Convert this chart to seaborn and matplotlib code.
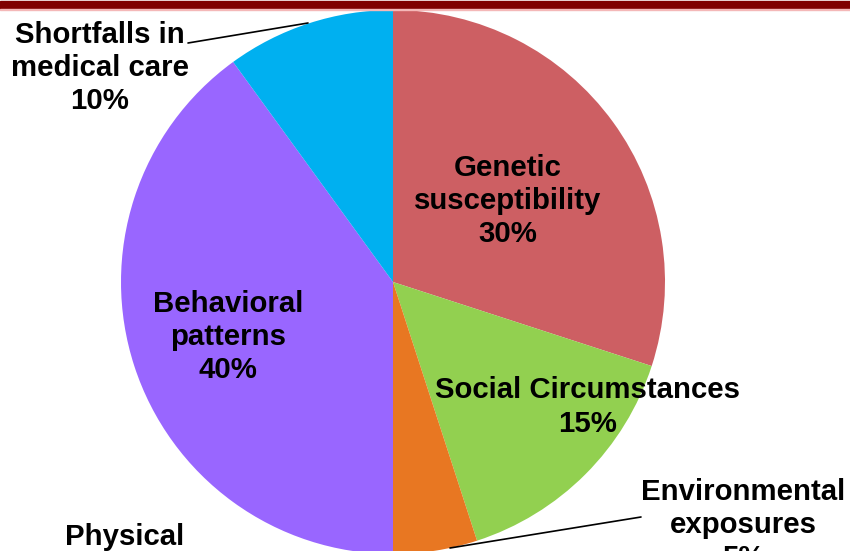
import matplotlib
matplotlib.use("Agg")
import matplotlib.pyplot as plt
import seaborn as sns

sns.set_theme(style="white")
plt.rcParams['font.family'] = ['Liberation Sans', 'DejaVu Sans']

categories = ["Genetic\nsusceptibility", "Social Circumstances", "Environmental\nexposures",
              "Behavioral\npatterns", "Shortfalls in\nmedical care"]
values = [30, 15, 5, 40, 10]
colors = ["#CD5F63", "#92D050", "#E87722", "#9966FF", "#00B0F0"]
palette = sns.color_palette(colors)

W, H = 850, 551
fig = plt.figure(figsize=(8.5, 5.51), dpi=100)
ax = fig.add_axes([0, 0, 1, 1])

cx, cy, r = 393, H - 282, 272
ax.pie(values, colors=palette, startangle=90, counterclock=False,
       center=(cx, cy), radius=r, frame=True,
       wedgeprops=dict(linewidth=0))
ax.set_xlim(0, W)
ax.set_ylim(0, H)
ax.set_aspect('equal')
ax.axis('off')

# top bar
ax.axhspan(H - 9, H - 1, color="#800000", zorder=5)
ax.axhspan(H - 10, H - 9, color="#F4B8B8", zorder=5)

fs = 21.2
kw = dict(fontsize=fs, fontweight='bold', color='black', ha='center', va='center',
          linespacing=1.23, zorder=6)
ax.text(508, H - 201, f"{categories[0]}\n{values[0]}%", **kw)
ax.text(588, H - 407, f"{categories[1]}\n{values[1]}%", **kw)
ax.text(743, H - 525, f"{categories[2]}\n{values[2]}%", **kw)
ax.text(228, H - 337, f"{categories[3]}\n{values[3]}%", **kw)
ax.text(100, H - 68, f"{categories[4]}\n{values[4]}%", **kw)
ax.text(125, H - 537, "Physical", **kw)

# leader lines
ax.plot([188, 308], [H - 43, H - 23], color='black', lw=1.2, zorder=6)
ax.plot([450, 641], [H - 548, H - 517], color='black', lw=1.2, zorder=6)

fig.savefig("out.png", dpi=100)
